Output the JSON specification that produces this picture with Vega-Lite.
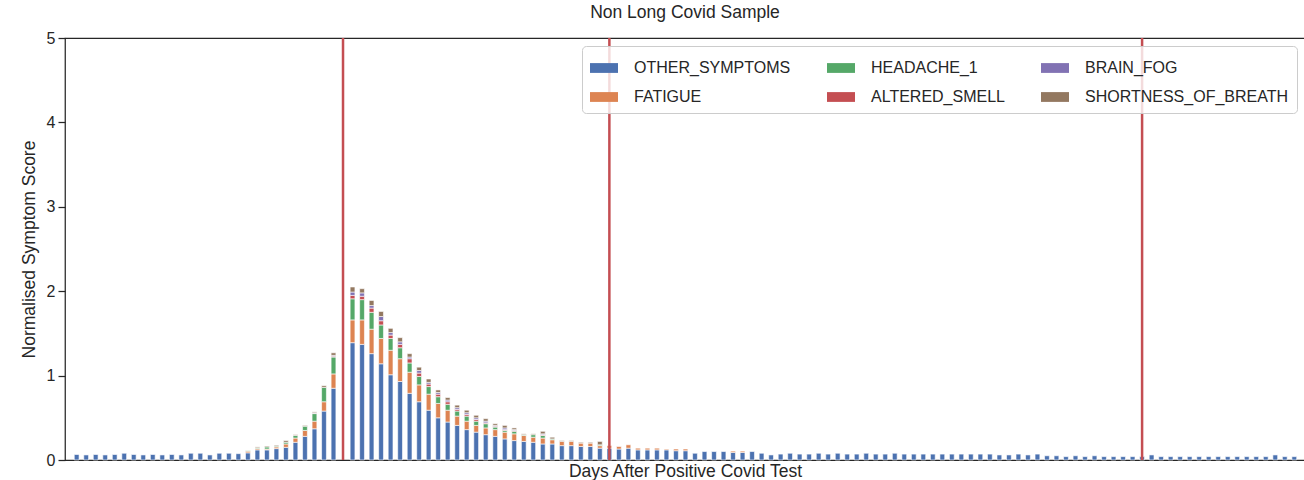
{
  "$schema": "https://vega.github.io/schema/vega-lite/v6.json",
  "width": 1240,
  "height": 422,
  "autosize": {"type": "none"},
  "padding": {"left": 65, "top": 38, "right": 0, "bottom": 20},
  "background": "white",
  "title": {"text": "Non Long Covid Sample", "fontSize": 17.5, "font": "Liberation Sans", "fontWeight": "normal", "color": "#262626", "offset": 9},
  "config": {
    "view": {"stroke": "#262626", "strokeWidth": 1.25},
    "font": "Liberation Sans",
    "axis": {"labelFont": "Liberation Sans", "titleFont": "Liberation Sans", "labelColor": "#262626", "titleColor": "#262626", "titleFontWeight": "normal", "grid": false, "domain": false}
  },
  "layer": [
    {
      "data": {"values": [
        {"d":-28,"s":"OTHER_SYMPTOMS","k":0,"v":0.065},
        {"d":-27,"s":"OTHER_SYMPTOMS","k":0,"v":0.06},
        {"d":-26,"s":"OTHER_SYMPTOMS","k":0,"v":0.065},
        {"d":-25,"s":"OTHER_SYMPTOMS","k":0,"v":0.06},
        {"d":-24,"s":"OTHER_SYMPTOMS","k":0,"v":0.065},
        {"d":-23,"s":"OTHER_SYMPTOMS","k":0,"v":0.08},
        {"d":-22,"s":"OTHER_SYMPTOMS","k":0,"v":0.065},
        {"d":-21,"s":"OTHER_SYMPTOMS","k":0,"v":0.06},
        {"d":-20,"s":"OTHER_SYMPTOMS","k":0,"v":0.065},
        {"d":-19,"s":"OTHER_SYMPTOMS","k":0,"v":0.06},
        {"d":-18,"s":"OTHER_SYMPTOMS","k":0,"v":0.065},
        {"d":-17,"s":"OTHER_SYMPTOMS","k":0,"v":0.06},
        {"d":-16,"s":"OTHER_SYMPTOMS","k":0,"v":0.08},
        {"d":-15,"s":"OTHER_SYMPTOMS","k":0,"v":0.08},
        {"d":-14,"s":"OTHER_SYMPTOMS","k":0,"v":0.06},
        {"d":-13,"s":"OTHER_SYMPTOMS","k":0,"v":0.08},
        {"d":-12,"s":"OTHER_SYMPTOMS","k":0,"v":0.08},
        {"d":-11,"s":"OTHER_SYMPTOMS","k":0,"v":0.075},
        {"d":-10,"s":"OTHER_SYMPTOMS","k":0,"v":0.085},
        {"d":-10,"s":"FATIGUE","k":1,"v":0.02},
        {"d":-10,"s":"HEADACHE_1","k":2,"v":0.005},
        {"d":-9,"s":"OTHER_SYMPTOMS","k":0,"v":0.12},
        {"d":-9,"s":"FATIGUE","k":1,"v":0.015},
        {"d":-9,"s":"HEADACHE_1","k":2,"v":0.01},
        {"d":-9,"s":"SHORTNESS_OF_BREATH","k":5,"v":0.01},
        {"d":-8,"s":"OTHER_SYMPTOMS","k":0,"v":0.12},
        {"d":-8,"s":"FATIGUE","k":1,"v":0.01},
        {"d":-8,"s":"HEADACHE_1","k":2,"v":0.025},
        {"d":-8,"s":"SHORTNESS_OF_BREATH","k":5,"v":0.01},
        {"d":-7,"s":"OTHER_SYMPTOMS","k":0,"v":0.135},
        {"d":-7,"s":"FATIGUE","k":1,"v":0.02},
        {"d":-7,"s":"HEADACHE_1","k":2,"v":0.01},
        {"d":-7,"s":"SHORTNESS_OF_BREATH","k":5,"v":0.01},
        {"d":-6,"s":"OTHER_SYMPTOMS","k":0,"v":0.15},
        {"d":-6,"s":"FATIGUE","k":1,"v":0.04},
        {"d":-6,"s":"HEADACHE_1","k":2,"v":0.02},
        {"d":-6,"s":"SHORTNESS_OF_BREATH","k":5,"v":0.02},
        {"d":-5,"s":"OTHER_SYMPTOMS","k":0,"v":0.21},
        {"d":-5,"s":"FATIGUE","k":1,"v":0.05},
        {"d":-5,"s":"HEADACHE_1","k":2,"v":0.03},
        {"d":-5,"s":"SHORTNESS_OF_BREATH","k":5,"v":0.01},
        {"d":-4,"s":"OTHER_SYMPTOMS","k":0,"v":0.28},
        {"d":-4,"s":"FATIGUE","k":1,"v":0.07},
        {"d":-4,"s":"HEADACHE_1","k":2,"v":0.05},
        {"d":-4,"s":"SHORTNESS_OF_BREATH","k":5,"v":0.01},
        {"d":-3,"s":"OTHER_SYMPTOMS","k":0,"v":0.37},
        {"d":-3,"s":"FATIGUE","k":1,"v":0.09},
        {"d":-3,"s":"HEADACHE_1","k":2,"v":0.09},
        {"d":-3,"s":"ALTERED_SMELL","k":3,"v":0.005},
        {"d":-3,"s":"BRAIN_FOG","k":4,"v":0.005},
        {"d":-3,"s":"SHORTNESS_OF_BREATH","k":5,"v":0.01},
        {"d":-2,"s":"OTHER_SYMPTOMS","k":0,"v":0.58},
        {"d":-2,"s":"FATIGUE","k":1,"v":0.11},
        {"d":-2,"s":"HEADACHE_1","k":2,"v":0.17},
        {"d":-2,"s":"SHORTNESS_OF_BREATH","k":5,"v":0.02},
        {"d":-1,"s":"OTHER_SYMPTOMS","k":0,"v":0.85},
        {"d":-1,"s":"FATIGUE","k":1,"v":0.17},
        {"d":-1,"s":"HEADACHE_1","k":2,"v":0.2},
        {"d":-1,"s":"ALTERED_SMELL","k":3,"v":0.01},
        {"d":-1,"s":"BRAIN_FOG","k":4,"v":0.01},
        {"d":-1,"s":"SHORTNESS_OF_BREATH","k":5,"v":0.03},
        {"d":1,"s":"OTHER_SYMPTOMS","k":0,"v":1.39},
        {"d":1,"s":"FATIGUE","k":1,"v":0.27},
        {"d":1,"s":"HEADACHE_1","k":2,"v":0.25},
        {"d":1,"s":"ALTERED_SMELL","k":3,"v":0.04},
        {"d":1,"s":"BRAIN_FOG","k":4,"v":0.04},
        {"d":1,"s":"SHORTNESS_OF_BREATH","k":5,"v":0.06},
        {"d":2,"s":"OTHER_SYMPTOMS","k":0,"v":1.37},
        {"d":2,"s":"FATIGUE","k":1,"v":0.29},
        {"d":2,"s":"HEADACHE_1","k":2,"v":0.24},
        {"d":2,"s":"ALTERED_SMELL","k":3,"v":0.04},
        {"d":2,"s":"BRAIN_FOG","k":4,"v":0.04},
        {"d":2,"s":"SHORTNESS_OF_BREATH","k":5,"v":0.05},
        {"d":3,"s":"OTHER_SYMPTOMS","k":0,"v":1.26},
        {"d":3,"s":"FATIGUE","k":1,"v":0.29},
        {"d":3,"s":"HEADACHE_1","k":2,"v":0.2},
        {"d":3,"s":"ALTERED_SMELL","k":3,"v":0.05},
        {"d":3,"s":"BRAIN_FOG","k":4,"v":0.03},
        {"d":3,"s":"SHORTNESS_OF_BREATH","k":5,"v":0.06},
        {"d":4,"s":"OTHER_SYMPTOMS","k":0,"v":1.14},
        {"d":4,"s":"FATIGUE","k":1,"v":0.3},
        {"d":4,"s":"HEADACHE_1","k":2,"v":0.16},
        {"d":4,"s":"ALTERED_SMELL","k":3,"v":0.05},
        {"d":4,"s":"BRAIN_FOG","k":4,"v":0.05},
        {"d":4,"s":"SHORTNESS_OF_BREATH","k":5,"v":0.06},
        {"d":5,"s":"OTHER_SYMPTOMS","k":0,"v":1.01},
        {"d":5,"s":"FATIGUE","k":1,"v":0.29},
        {"d":5,"s":"HEADACHE_1","k":2,"v":0.14},
        {"d":5,"s":"ALTERED_SMELL","k":3,"v":0.04},
        {"d":5,"s":"BRAIN_FOG","k":4,"v":0.03},
        {"d":5,"s":"SHORTNESS_OF_BREATH","k":5,"v":0.05},
        {"d":6,"s":"OTHER_SYMPTOMS","k":0,"v":0.93},
        {"d":6,"s":"FATIGUE","k":1,"v":0.27},
        {"d":6,"s":"HEADACHE_1","k":2,"v":0.13},
        {"d":6,"s":"ALTERED_SMELL","k":3,"v":0.04},
        {"d":6,"s":"BRAIN_FOG","k":4,"v":0.03},
        {"d":6,"s":"SHORTNESS_OF_BREATH","k":5,"v":0.05},
        {"d":7,"s":"OTHER_SYMPTOMS","k":0,"v":0.79},
        {"d":7,"s":"FATIGUE","k":1,"v":0.25},
        {"d":7,"s":"HEADACHE_1","k":2,"v":0.11},
        {"d":7,"s":"ALTERED_SMELL","k":3,"v":0.05},
        {"d":7,"s":"BRAIN_FOG","k":4,"v":0.02},
        {"d":7,"s":"SHORTNESS_OF_BREATH","k":5,"v":0.04},
        {"d":8,"s":"OTHER_SYMPTOMS","k":0,"v":0.69},
        {"d":8,"s":"FATIGUE","k":1,"v":0.2},
        {"d":8,"s":"HEADACHE_1","k":2,"v":0.1},
        {"d":8,"s":"ALTERED_SMELL","k":3,"v":0.04},
        {"d":8,"s":"BRAIN_FOG","k":4,"v":0.03},
        {"d":8,"s":"SHORTNESS_OF_BREATH","k":5,"v":0.04},
        {"d":9,"s":"OTHER_SYMPTOMS","k":0,"v":0.59},
        {"d":9,"s":"FATIGUE","k":1,"v":0.19},
        {"d":9,"s":"HEADACHE_1","k":2,"v":0.09},
        {"d":9,"s":"ALTERED_SMELL","k":3,"v":0.03},
        {"d":9,"s":"BRAIN_FOG","k":4,"v":0.02},
        {"d":9,"s":"SHORTNESS_OF_BREATH","k":5,"v":0.04},
        {"d":10,"s":"OTHER_SYMPTOMS","k":0,"v":0.5},
        {"d":10,"s":"FATIGUE","k":1,"v":0.17},
        {"d":10,"s":"HEADACHE_1","k":2,"v":0.08},
        {"d":10,"s":"ALTERED_SMELL","k":3,"v":0.03},
        {"d":10,"s":"BRAIN_FOG","k":4,"v":0.02},
        {"d":10,"s":"SHORTNESS_OF_BREATH","k":5,"v":0.03},
        {"d":11,"s":"OTHER_SYMPTOMS","k":0,"v":0.45},
        {"d":11,"s":"FATIGUE","k":1,"v":0.14},
        {"d":11,"s":"HEADACHE_1","k":2,"v":0.07},
        {"d":11,"s":"ALTERED_SMELL","k":3,"v":0.03},
        {"d":11,"s":"BRAIN_FOG","k":4,"v":0.02},
        {"d":11,"s":"SHORTNESS_OF_BREATH","k":5,"v":0.03},
        {"d":12,"s":"OTHER_SYMPTOMS","k":0,"v":0.41},
        {"d":12,"s":"FATIGUE","k":1,"v":0.11},
        {"d":12,"s":"HEADACHE_1","k":2,"v":0.06},
        {"d":12,"s":"ALTERED_SMELL","k":3,"v":0.02},
        {"d":12,"s":"BRAIN_FOG","k":4,"v":0.02},
        {"d":12,"s":"SHORTNESS_OF_BREATH","k":5,"v":0.03},
        {"d":13,"s":"OTHER_SYMPTOMS","k":0,"v":0.36},
        {"d":13,"s":"FATIGUE","k":1,"v":0.1},
        {"d":13,"s":"HEADACHE_1","k":2,"v":0.06},
        {"d":13,"s":"ALTERED_SMELL","k":3,"v":0.02},
        {"d":13,"s":"BRAIN_FOG","k":4,"v":0.02},
        {"d":13,"s":"SHORTNESS_OF_BREATH","k":5,"v":0.03},
        {"d":14,"s":"OTHER_SYMPTOMS","k":0,"v":0.33},
        {"d":14,"s":"FATIGUE","k":1,"v":0.08},
        {"d":14,"s":"HEADACHE_1","k":2,"v":0.05},
        {"d":14,"s":"ALTERED_SMELL","k":3,"v":0.02},
        {"d":14,"s":"BRAIN_FOG","k":4,"v":0.02},
        {"d":14,"s":"SHORTNESS_OF_BREATH","k":5,"v":0.03},
        {"d":15,"s":"OTHER_SYMPTOMS","k":0,"v":0.3},
        {"d":15,"s":"FATIGUE","k":1,"v":0.08},
        {"d":15,"s":"HEADACHE_1","k":2,"v":0.05},
        {"d":15,"s":"ALTERED_SMELL","k":3,"v":0.01},
        {"d":15,"s":"BRAIN_FOG","k":4,"v":0.02},
        {"d":15,"s":"SHORTNESS_OF_BREATH","k":5,"v":0.03},
        {"d":16,"s":"OTHER_SYMPTOMS","k":0,"v":0.28},
        {"d":16,"s":"FATIGUE","k":1,"v":0.08},
        {"d":16,"s":"HEADACHE_1","k":2,"v":0.03},
        {"d":16,"s":"ALTERED_SMELL","k":3,"v":0.01},
        {"d":16,"s":"BRAIN_FOG","k":4,"v":0.01},
        {"d":16,"s":"SHORTNESS_OF_BREATH","k":5,"v":0.02},
        {"d":17,"s":"OTHER_SYMPTOMS","k":0,"v":0.25},
        {"d":17,"s":"FATIGUE","k":1,"v":0.08},
        {"d":17,"s":"HEADACHE_1","k":2,"v":0.02},
        {"d":17,"s":"ALTERED_SMELL","k":3,"v":0.01},
        {"d":17,"s":"BRAIN_FOG","k":4,"v":0.02},
        {"d":17,"s":"SHORTNESS_OF_BREATH","k":5,"v":0.03},
        {"d":18,"s":"OTHER_SYMPTOMS","k":0,"v":0.23},
        {"d":18,"s":"FATIGUE","k":1,"v":0.08},
        {"d":18,"s":"HEADACHE_1","k":2,"v":0.03},
        {"d":18,"s":"ALTERED_SMELL","k":3,"v":0.01},
        {"d":18,"s":"BRAIN_FOG","k":4,"v":0.01},
        {"d":18,"s":"SHORTNESS_OF_BREATH","k":5,"v":0.02},
        {"d":19,"s":"OTHER_SYMPTOMS","k":0,"v":0.22},
        {"d":19,"s":"FATIGUE","k":1,"v":0.07},
        {"d":19,"s":"HEADACHE_1","k":2,"v":0.01},
        {"d":19,"s":"SHORTNESS_OF_BREATH","k":5,"v":0.01},
        {"d":20,"s":"OTHER_SYMPTOMS","k":0,"v":0.21},
        {"d":20,"s":"FATIGUE","k":1,"v":0.06},
        {"d":20,"s":"HEADACHE_1","k":2,"v":0.03},
        {"d":20,"s":"SHORTNESS_OF_BREATH","k":5,"v":0.01},
        {"d":21,"s":"OTHER_SYMPTOMS","k":0,"v":0.19},
        {"d":21,"s":"FATIGUE","k":1,"v":0.07},
        {"d":21,"s":"HEADACHE_1","k":2,"v":0.03},
        {"d":21,"s":"ALTERED_SMELL","k":3,"v":0.01},
        {"d":21,"s":"BRAIN_FOG","k":4,"v":0.01},
        {"d":21,"s":"SHORTNESS_OF_BREATH","k":5,"v":0.03},
        {"d":22,"s":"OTHER_SYMPTOMS","k":0,"v":0.19},
        {"d":22,"s":"FATIGUE","k":1,"v":0.05},
        {"d":22,"s":"HEADACHE_1","k":2,"v":0.01},
        {"d":22,"s":"SHORTNESS_OF_BREATH","k":5,"v":0.02},
        {"d":23,"s":"OTHER_SYMPTOMS","k":0,"v":0.17},
        {"d":23,"s":"FATIGUE","k":1,"v":0.05},
        {"d":23,"s":"SHORTNESS_OF_BREATH","k":5,"v":0.01},
        {"d":24,"s":"OTHER_SYMPTOMS","k":0,"v":0.17},
        {"d":24,"s":"FATIGUE","k":1,"v":0.05},
        {"d":24,"s":"SHORTNESS_OF_BREATH","k":5,"v":0.01},
        {"d":25,"s":"OTHER_SYMPTOMS","k":0,"v":0.16},
        {"d":25,"s":"FATIGUE","k":1,"v":0.04},
        {"d":25,"s":"SHORTNESS_OF_BREATH","k":5,"v":0.01},
        {"d":26,"s":"OTHER_SYMPTOMS","k":0,"v":0.16},
        {"d":26,"s":"FATIGUE","k":1,"v":0.04},
        {"d":26,"s":"SHORTNESS_OF_BREATH","k":5,"v":0.01},
        {"d":27,"s":"OTHER_SYMPTOMS","k":0,"v":0.14},
        {"d":27,"s":"FATIGUE","k":1,"v":0.03},
        {"d":27,"s":"HEADACHE_1","k":2,"v":0.01},
        {"d":27,"s":"SHORTNESS_OF_BREATH","k":5,"v":0.04},
        {"d":28,"s":"OTHER_SYMPTOMS","k":0,"v":0.14},
        {"d":28,"s":"FATIGUE","k":1,"v":0.03},
        {"d":29,"s":"OTHER_SYMPTOMS","k":0,"v":0.13},
        {"d":29,"s":"FATIGUE","k":1,"v":0.03},
        {"d":30,"s":"OTHER_SYMPTOMS","k":0,"v":0.14},
        {"d":30,"s":"FATIGUE","k":1,"v":0.04},
        {"d":31,"s":"OTHER_SYMPTOMS","k":0,"v":0.12},
        {"d":31,"s":"FATIGUE","k":1,"v":0.02},
        {"d":32,"s":"OTHER_SYMPTOMS","k":0,"v":0.12},
        {"d":32,"s":"FATIGUE","k":1,"v":0.02},
        {"d":33,"s":"OTHER_SYMPTOMS","k":0,"v":0.12},
        {"d":33,"s":"FATIGUE","k":1,"v":0.02},
        {"d":34,"s":"OTHER_SYMPTOMS","k":0,"v":0.12},
        {"d":34,"s":"FATIGUE","k":1,"v":0.01},
        {"d":35,"s":"OTHER_SYMPTOMS","k":0,"v":0.11},
        {"d":35,"s":"FATIGUE","k":1,"v":0.02},
        {"d":36,"s":"OTHER_SYMPTOMS","k":0,"v":0.11},
        {"d":36,"s":"FATIGUE","k":1,"v":0.02},
        {"d":37,"s":"OTHER_SYMPTOMS","k":0,"v":0.08},
        {"d":38,"s":"OTHER_SYMPTOMS","k":0,"v":0.1},
        {"d":39,"s":"OTHER_SYMPTOMS","k":0,"v":0.1},
        {"d":40,"s":"OTHER_SYMPTOMS","k":0,"v":0.1},
        {"d":41,"s":"OTHER_SYMPTOMS","k":0,"v":0.09},
        {"d":41,"s":"FATIGUE","k":1,"v":0.015},
        {"d":42,"s":"OTHER_SYMPTOMS","k":0,"v":0.09},
        {"d":42,"s":"FATIGUE","k":1,"v":0.015},
        {"d":43,"s":"OTHER_SYMPTOMS","k":0,"v":0.1},
        {"d":44,"s":"OTHER_SYMPTOMS","k":0,"v":0.08},
        {"d":45,"s":"OTHER_SYMPTOMS","k":0,"v":0.06},
        {"d":46,"s":"OTHER_SYMPTOMS","k":0,"v":0.07},
        {"d":47,"s":"OTHER_SYMPTOMS","k":0,"v":0.08},
        {"d":48,"s":"OTHER_SYMPTOMS","k":0,"v":0.07},
        {"d":49,"s":"OTHER_SYMPTOMS","k":0,"v":0.07},
        {"d":50,"s":"OTHER_SYMPTOMS","k":0,"v":0.08},
        {"d":51,"s":"OTHER_SYMPTOMS","k":0,"v":0.07},
        {"d":52,"s":"OTHER_SYMPTOMS","k":0,"v":0.08},
        {"d":53,"s":"OTHER_SYMPTOMS","k":0,"v":0.07},
        {"d":54,"s":"OTHER_SYMPTOMS","k":0,"v":0.07},
        {"d":55,"s":"OTHER_SYMPTOMS","k":0,"v":0.08},
        {"d":56,"s":"OTHER_SYMPTOMS","k":0,"v":0.07},
        {"d":57,"s":"OTHER_SYMPTOMS","k":0,"v":0.07},
        {"d":58,"s":"OTHER_SYMPTOMS","k":0,"v":0.08},
        {"d":59,"s":"OTHER_SYMPTOMS","k":0,"v":0.07},
        {"d":60,"s":"OTHER_SYMPTOMS","k":0,"v":0.07},
        {"d":61,"s":"OTHER_SYMPTOMS","k":0,"v":0.07},
        {"d":62,"s":"OTHER_SYMPTOMS","k":0,"v":0.07},
        {"d":63,"s":"OTHER_SYMPTOMS","k":0,"v":0.07},
        {"d":64,"s":"OTHER_SYMPTOMS","k":0,"v":0.07},
        {"d":65,"s":"OTHER_SYMPTOMS","k":0,"v":0.07},
        {"d":66,"s":"OTHER_SYMPTOMS","k":0,"v":0.07},
        {"d":67,"s":"OTHER_SYMPTOMS","k":0,"v":0.07},
        {"d":68,"s":"OTHER_SYMPTOMS","k":0,"v":0.07},
        {"d":69,"s":"OTHER_SYMPTOMS","k":0,"v":0.06},
        {"d":70,"s":"OTHER_SYMPTOMS","k":0,"v":0.06},
        {"d":71,"s":"OTHER_SYMPTOMS","k":0,"v":0.07},
        {"d":72,"s":"OTHER_SYMPTOMS","k":0,"v":0.06},
        {"d":73,"s":"OTHER_SYMPTOMS","k":0,"v":0.07},
        {"d":74,"s":"OTHER_SYMPTOMS","k":0,"v":0.05},
        {"d":75,"s":"OTHER_SYMPTOMS","k":0,"v":0.05},
        {"d":76,"s":"OTHER_SYMPTOMS","k":0,"v":0.04},
        {"d":77,"s":"OTHER_SYMPTOMS","k":0,"v":0.05},
        {"d":78,"s":"OTHER_SYMPTOMS","k":0,"v":0.04},
        {"d":79,"s":"OTHER_SYMPTOMS","k":0,"v":0.05},
        {"d":80,"s":"OTHER_SYMPTOMS","k":0,"v":0.04},
        {"d":81,"s":"OTHER_SYMPTOMS","k":0,"v":0.04},
        {"d":82,"s":"OTHER_SYMPTOMS","k":0,"v":0.04},
        {"d":83,"s":"OTHER_SYMPTOMS","k":0,"v":0.04},
        {"d":84,"s":"OTHER_SYMPTOMS","k":0,"v":0.04},
        {"d":85,"s":"OTHER_SYMPTOMS","k":0,"v":0.06},
        {"d":86,"s":"OTHER_SYMPTOMS","k":0,"v":0.04},
        {"d":87,"s":"OTHER_SYMPTOMS","k":0,"v":0.04},
        {"d":88,"s":"OTHER_SYMPTOMS","k":0,"v":0.04},
        {"d":89,"s":"OTHER_SYMPTOMS","k":0,"v":0.04},
        {"d":90,"s":"OTHER_SYMPTOMS","k":0,"v":0.04},
        {"d":91,"s":"OTHER_SYMPTOMS","k":0,"v":0.04},
        {"d":92,"s":"OTHER_SYMPTOMS","k":0,"v":0.04},
        {"d":93,"s":"OTHER_SYMPTOMS","k":0,"v":0.04},
        {"d":94,"s":"OTHER_SYMPTOMS","k":0,"v":0.04},
        {"d":95,"s":"OTHER_SYMPTOMS","k":0,"v":0.04},
        {"d":96,"s":"OTHER_SYMPTOMS","k":0,"v":0.04},
        {"d":97,"s":"OTHER_SYMPTOMS","k":0,"v":0.04},
        {"d":98,"s":"OTHER_SYMPTOMS","k":0,"v":0.06},
        {"d":99,"s":"OTHER_SYMPTOMS","k":0,"v":0.04},
        {"d":100,"s":"OTHER_SYMPTOMS","k":0,"v":0.04}
      ]},
      "mark": {"type": "bar", "size": 4.8, "stroke": "white", "strokeWidth": 0.6},
      "encoding": {
        "x": {"field": "d", "type": "quantitative", "scale": {"domain": [-28.7, 100.6], "nice": false, "zero": false},
              "axis": {"labels": false, "ticks": false, "title": "Days After Positive Covid Test", "titleFontSize": 17.5, "titlePadding": 2}},
        "y": {"field": "v", "type": "quantitative", "stack": "zero", "scale": {"domain": [0, 5], "nice": false},
              "axis": {"values": [0, 1, 2, 3, 4, 5], "labelFontSize": 16, "tickSize": 7, "tickColor": "#262626", "tickWidth": 1.25, "labelPadding": 3,
                       "title": "Normalised Symptom Score", "titleFontSize": 17.5, "titleX": -36, "titleY": 211, "titleBaseline": "middle"}},
        "color": {"field": "s", "type": "nominal",
          "scale": {"domain": ["OTHER_SYMPTOMS", "HEADACHE_1", "BRAIN_FOG", "FATIGUE", "ALTERED_SMELL", "SHORTNESS_OF_BREATH"],
                    "range": ["#4C72B0", "#55A868", "#8172B3", "#DD8452", "#C44E52", "#937860"]},
          "legend": {"title": null, "orient": "none", "legendX": 517, "legendY": 8, "columns": 3, "direction": "horizontal",
                     "labelFontSize": 16, "labelFont": "Liberation Sans", "labelColor": "#262626", "labelLimit": 400,
                     "symbolType": "M-1,-0.35H1V0.35H-1Z", "symbolSize": 784, "symbolStrokeWidth": 0, "symbolOpacity": 1,
                     "labelOffset": 16, "columnPadding": 36, "rowPadding": 7, "padding": 8,
                     "strokeColor": "#cccccc", "fillColor": "rgba(255,255,255,0.8)", "cornerRadius": 4}},
        "order": {"field": "k", "type": "quantitative", "sort": "ascending"}
      }
    },
    {
      "data": {"values": [{"d": 0}, {"d": 28}, {"d": 84}]},
      "mark": {"type": "rule", "color": "#C44E52", "strokeWidth": 2.5},
      "encoding": {
        "x": {"field": "d", "type": "quantitative", "scale": {"domain": [-28.7, 100.6], "nice": false, "zero": false}}
      }
    }
  ]
}
